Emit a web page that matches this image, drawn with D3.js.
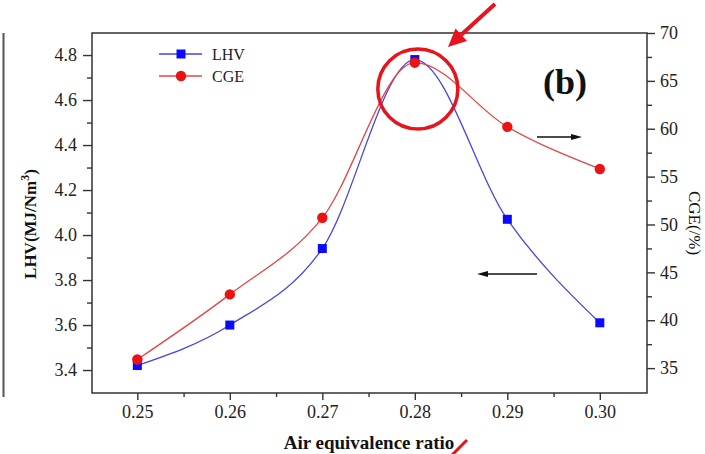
<!DOCTYPE html>
<html>
<head>
<meta charset="utf-8">
<script src="https://cdn.jsdelivr.net/npm/d3@7"></script>
<style>
  body { margin: 0; background: #fff; }
  svg { display: block; }
</style>
</head>
<body>
<svg width="705" height="454"></svg>
<script>
// data
const ratios = [0.25, 0.26, 0.27, 0.28, 0.29, 0.30];
const lhv = [3.42, 3.60, 3.94, 4.78, 4.07, 3.61];
const cge = [35.9, 42.7, 50.7, 66.9, 60.2, 55.8];

const xTicks = [0.25, 0.26, 0.27, 0.28, 0.29, 0.30];
const xMinor = [0.255, 0.265, 0.275, 0.285, 0.295];
const lhvTicks = [3.4, 3.6, 3.8, 4.0, 4.2, 4.4, 4.6, 4.8];
const lhvMinor = [3.5, 3.7, 3.9, 4.1, 4.3, 4.5, 4.7];
const cgeTicks = [35, 40, 45, 50, 55, 60, 65, 70];
const cgeMinor = [37.5, 42.5, 47.5, 52.5, 57.5, 62.5, 67.5];

const serif = 'Liberation Serif';
const svg = d3.select('svg');
const plotL = 92, plotR = 647, plotT = 33, plotB = 393;

const x = d3.scaleLinear().domain([0.2451, 0.3051]).range([plotL, plotR]);
const yL = d3.scaleLinear().domain([3.298, 4.898]).range([plotB, plotT]);
const yR = d3.scaleLinear().domain([32.4, 70]).range([plotB, plotT]);

const axisColor = '#333';

function addText(parent, size, weight) {
  return parent.append('text')
    .attr('font-family', serif).attr('font-size', size)
    .attr('font-weight', weight || 'normal').attr('fill', '#111');
}

// stray frame edge from neighbouring panel
svg.append('line')
  .attr('x1', 3.5).attr('x2', 3.5).attr('y1', 33).attr('y2', 397)
  .attr('stroke', '#555').attr('stroke-width', 2);

function styleAxis(g) {
  g.attr('font-family', serif).attr('font-size', 18);
  g.select('.domain').remove();
  g.selectAll('line').attr('stroke', axisColor).attr('stroke-width', 1.4);
  g.selectAll('text').attr('fill', '#222');
}

// axes
svg.append('g').attr('transform', `translate(0,${plotB})`)
  .call(d3.axisBottom(x).tickValues(xTicks).tickFormat(d3.format('.2f')).tickSize(7).tickPadding(5))
  .call(styleAxis);
svg.append('g').attr('transform', `translate(0,${plotB})`)
  .call(d3.axisBottom(x).tickValues(xMinor).tickFormat('').tickSize(4))
  .call(styleAxis);

svg.append('g').attr('transform', `translate(${plotL},0)`)
  .call(d3.axisLeft(yL).tickValues(lhvTicks).tickFormat(d3.format('.1f')).tickSize(9).tickPadding(6))
  .call(styleAxis);
svg.append('g').attr('transform', `translate(${plotL},0)`)
  .call(d3.axisLeft(yL).tickValues(lhvMinor).tickFormat('').tickSize(5))
  .call(styleAxis);

svg.append('g').attr('transform', `translate(${plotR},0)`)
  .call(d3.axisRight(yR).tickValues(cgeTicks).tickSize(8).tickPadding(5))
  .call(styleAxis);
svg.append('g').attr('transform', `translate(${plotR},0)`)
  .call(d3.axisRight(yR).tickValues(cgeMinor).tickFormat('').tickSize(5))
  .call(styleAxis);

// frame
svg.append('rect')
  .attr('x', plotL).attr('y', plotT)
  .attr('width', plotR - plotL).attr('height', plotB - plotT)
  .attr('fill', 'none').attr('stroke', axisColor).attr('stroke-width', 1.5);

// curves
const lhvLine = d3.line().curve(d3.curveMonotoneX)
  .x((d, i) => x(ratios[i])).y(d => yL(d));
const cgeLine = d3.line().curve(d3.curveMonotoneX)
  .x((d, i) => x(ratios[i])).y(d => yR(d));

svg.append('path').datum(lhv).attr('d', lhvLine)
  .attr('fill', 'none').attr('stroke', '#4646e0').attr('stroke-width', 1.3);
svg.append('path').datum(cge).attr('d', cgeLine)
  .attr('fill', 'none').attr('stroke', '#e24646').attr('stroke-width', 1.3);

svg.append('g').selectAll('rect').data(lhv).join('rect')
  .attr('x', (d, i) => x(ratios[i]) - 4.5).attr('y', d => yL(d) - 4.5)
  .attr('width', 9).attr('height', 9).attr('fill', '#0a0aff');
svg.append('g').selectAll('circle').data(cge).join('circle')
  .attr('cx', (d, i) => x(ratios[i])).attr('cy', d => yR(d))
  .attr('r', 5.2).attr('fill', '#ee1111');

// legend
const legend = svg.append('g');
legend.append('line').attr('x1', 159).attr('x2', 202).attr('y1', 54).attr('y2', 54)
  .attr('stroke', '#4646e0').attr('stroke-width', 1.3);
legend.append('rect').attr('x', 176.5).attr('y', 49.5).attr('width', 9).attr('height', 9).attr('fill', '#0a0aff');
addText(legend, 16).attr('x', 212).attr('y', 59.5).attr('fill', '#222').text('LHV');
legend.append('line').attr('x1', 159).attr('x2', 202).attr('y1', 76).attr('y2', 76)
  .attr('stroke', '#e24646').attr('stroke-width', 1.3);
legend.append('circle').attr('cx', 181).attr('cy', 76).attr('r', 5.2).attr('fill', '#ee1111');
addText(legend, 16).attr('x', 212).attr('y', 81.5).attr('fill', '#222').text('CGE');

// axis titles
addText(svg, 19, 'bold')
  .attr('transform', 'translate(369,449)')
  .attr('text-anchor', 'middle')
  .text('Air equivalence ratio');

const yTitle = addText(svg, 17, 'bold')
  .attr('transform', 'translate(36,224) rotate(-90)')
  .attr('text-anchor', 'middle');
yTitle.append('tspan').text('LHV(MJ/Nm');
yTitle.append('tspan').attr('dy', -7).attr('font-size', 12).text('3');
yTitle.append('tspan').attr('dy', 7).text(')');

addText(svg, 17)
  .attr('transform', 'translate(689,223) rotate(90)')
  .attr('text-anchor', 'middle')
  .text('CGE(/%)');

// panel tag
addText(svg, 36, 'bold').attr('x', 543).attr('y', 94).text('(b)');

// direction arrows
function arrow(x1, y1, x2, y2, color, width, headLen, headW) {
  const a = Math.atan2(y2 - y1, x2 - x1);
  const bx = x2 - headLen * Math.cos(a), by = y2 - headLen * Math.sin(a);
  svg.append('line').attr('x1', x1).attr('y1', y1).attr('x2', bx).attr('y2', by)
    .attr('stroke', color).attr('stroke-width', width);
  const px = -Math.sin(a) * headW / 2, py = Math.cos(a) * headW / 2;
  svg.append('polygon')
    .attr('points', `${x2},${y2} ${bx + px},${by + py} ${bx - px},${by - py}`)
    .attr('fill', color);
}
arrow(537, 137, 582, 137, '#111', 1.5, 11, 6);
arrow(537, 274, 477, 274, '#111', 1.5, 11, 6);

// red highlight
const peakX = x(0.28);
svg.append('circle').attr('cx', peakX + 3).attr('cy', 89).attr('r', 40)
  .attr('fill', 'none').attr('stroke', '#e8141c').attr('stroke-width', 3.5);
arrow(495, 4, 448, 47, '#e8141c', 4, 18, 17);
svg.append('line').attr('x1', 452).attr('y1', 455).attr('x2', 467).attr('y2', 440)
  .attr('stroke', '#e8141c').attr('stroke-width', 3);
</script>
</body>
</html>
